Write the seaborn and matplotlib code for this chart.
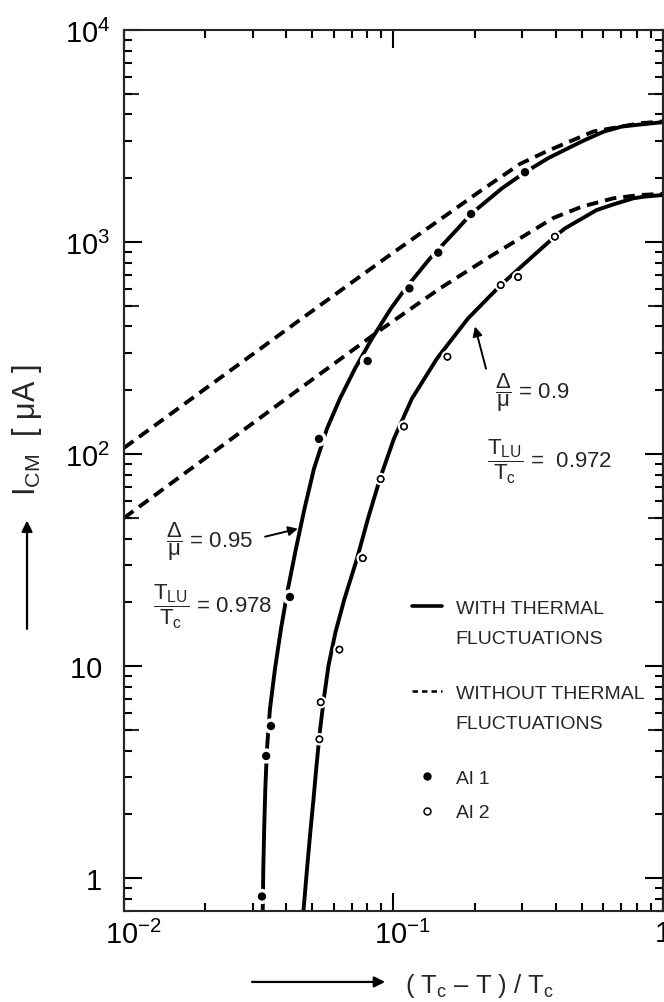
import numpy as np
import pandas as pd
import matplotlib
matplotlib.use("Agg")
import matplotlib.pyplot as plt
import matplotlib.patheffects as pe
import matplotlib.transforms as mtransforms
from matplotlib.lines import Line2D
from matplotlib.ticker import LogLocator, NullFormatter, FixedLocator, FixedFormatter
import seaborn as sns

# --- data ---
# measured points
al1_x = [0.0325, 0.0337, 0.0351, 0.0413, 0.0529, 0.0802, 0.1146, 0.1466, 0.194, 0.3076]
al1_y = [0.82, 3.77, 5.22, 21.2, 118, 275, 605, 892, 1357, 2136]
al2_x = [0.0531, 0.0537, 0.0630, 0.0769, 0.0896, 0.1094, 0.1585, 0.25, 0.290, 0.397]
al2_y = [4.52, 6.76, 11.97, 32.3, 76.3, 135, 288, 627, 684, 1061]

# theory, with thermal fluctuations (solid)
with1_x = [0.03272, 0.03288, 0.03313, 0.03345, 0.03393, 0.03481, 0.03633, 0.03824, 0.04059,
           0.04346, 0.04675, 0.0507, 0.05665, 0.0633, 0.07197, 0.08323, 0.09788, 0.1108,
           0.1366, 0.1735, 0.1939, 0.2527, 0.3075, 0.3744, 0.4441, 0.5135, 0.604, 0.7045,
           0.8429, 1.0]
with1_y = [0.701, 1.103, 1.704, 2.633, 4.067, 6.283, 9.705, 14.99, 23.16,
           35.78, 55.27, 85.4, 131.9, 182.9, 253.3, 351.2, 486.6, 604.7,
           838.1, 1161, 1357, 1794, 2135, 2486, 2771, 3033, 3323, 3510,
           3598, 3680]
with2_x = [0.04634, 0.04788, 0.04913, 0.05049, 0.0518, 0.05328, 0.05513, 0.05739, 0.06092,
           0.06579, 0.0732, 0.0804, 0.0891, 0.1004, 0.1171, 0.145, 0.189, 0.2499, 0.328,
           0.3975, 0.4329, 0.5675, 0.6636, 0.7759, 0.857, 1.0]
with2_y = [0.701, 1.143, 1.644, 2.361, 3.391, 4.875, 7.004, 10.06, 14.46,
           20.78, 32.1, 49.6, 76.6, 118.4, 182.9, 282.5, 436.4, 627, 856,
           1065, 1161, 1417, 1515, 1609, 1640, 1668]

# theory, without thermal fluctuations (dashed)
without1_x = [0.01, 0.045, 0.0903, 0.2095, 0.2946, 0.370, 0.551, 0.822, 1.0]
without1_y = [107, 430, 815, 1738, 2336, 2680, 3323, 3638, 3706]
without2_x = [0.01, 0.045, 0.0891, 0.1488, 0.228, 0.392, 0.50, 0.655, 0.822, 1.0]
without2_y = [50, 204, 384, 605, 854, 1300, 1470, 1610, 1668, 1690]

x_ticks = [0.01, 0.1, 1]
x_ticklabels = [r"$10^{-2}$", r"$10^{-1}$", "1"]
y_ticks = [1, 10, 100, 1000, 10000]
y_ticklabels = ["1 ", "10 ", r"$10^2$", r"$10^3$", r"$10^4$"]
y_mid_ticks = [5, 50, 500, 5000]

# --- style ---
sns.set_style("ticks")
FONT = ["Liberation Sans", "DejaVu Sans"]
plt.rcParams["font.family"] = FONT
plt.rcParams.update({
    "mathtext.fontset": "custom",
    "mathtext.rm": "Liberation Sans",
    "mathtext.it": "Liberation Sans:italic",
    "mathtext.bf": "Liberation Sans:bold",
    "mathtext.default": "regular",
    "axes.linewidth": 1.5,
})

fig = plt.figure(figsize=(6.64, 10.03), dpi=100)
ax = fig.add_axes([0.1867, 0.0907, 0.8118, 0.8783])
ax.set_xscale("log")
ax.set_yscale("log")

curves = [
    (with1_x, with1_y, "-"),
    (with2_x, with2_y, "-"),
    (without1_x, without1_y, "--"),
    (without2_x, without2_y, "--"),
]
for xs, ys, ls in curves:
    df = pd.DataFrame({"x": xs, "y": ys})
    sns.lineplot(data=df, x="x", y="y", ax=ax, color="black", lw=2.8,
                 sort=False, estimator=None, legend=False)
    line = ax.lines[-1]
    if ls == "--":
        line.set_dashes((3.0, 1.8))
    line.set_solid_capstyle("butt")
    line.set_solid_joinstyle("round")

# measured points, with white halo so the curve is broken round them
df1 = pd.DataFrame({"x": al1_x, "y": al1_y})
sns.scatterplot(data=df1, x="x", y="y", ax=ax, color="black", s=36,
                linewidth=0, zorder=5, legend=False)
ax.collections[-1].set_path_effects([pe.withStroke(linewidth=5, foreground="white")])
df2 = pd.DataFrame({"x": al2_x, "y": al2_y})
sns.scatterplot(data=df2, x="x", y="y", ax=ax, facecolor="white", edgecolor="black",
                s=20, linewidth=1.1, zorder=5, legend=False)
ax.collections[-1].set_path_effects([pe.withStroke(linewidth=4.5, foreground="white"), pe.Normal()])

ax.set_xlim(0.01, 1.0)
ax.set_ylim(0.7, 10000)

ax.xaxis.set_major_locator(FixedLocator(x_ticks))
ax.xaxis.set_major_formatter(FixedFormatter(x_ticklabels))
ax.yaxis.set_major_locator(FixedLocator(y_ticks))
ax.yaxis.set_major_formatter(FixedFormatter(y_ticklabels))
ax.xaxis.set_minor_locator(LogLocator(base=10, subs=np.arange(2, 10)))
ax.yaxis.set_minor_locator(LogLocator(base=10, subs=np.arange(2, 10)))
ax.xaxis.set_minor_formatter(NullFormatter())
ax.yaxis.set_minor_formatter(NullFormatter())
ax.tick_params(which="both", direction="in", top=True, right=True, width=1.5, colors="black")
ax.tick_params(which="major", length=13, labelsize=21)
ax.tick_params(which="minor", length=6)
ax.tick_params(axis="y", which="major", pad=10)
ax.tick_params(axis="x", which="major", pad=6)
ax.set_xlabel("")
ax.set_ylabel("")
# the 10^n labels sit a little right of their ticks in the original
shift = mtransforms.ScaledTranslation(0.09, 0, fig.dpi_scale_trans)
for lab in ax.get_xticklabels()[:2]:
    lab.set_transform(lab.get_transform() + shift)

# longer ticks at the 5s on both y axes
for side in ("left", "right"):
    sec = ax.secondary_yaxis(side)
    sec.set_yticks(y_mid_ticks)
    sec.yaxis.set_minor_locator(FixedLocator([]))
    sec.tick_params(which="major", direction="in", length=11, width=1.5, labelleft=False,
                    labelright=False)
    sec.spines[side].set_linewidth(1.5)

# --- annotations ---
arrow = dict(arrowstyle="-|>", lw=1.4, color="black", mutation_scale=14, shrinkA=0, shrinkB=0)
ax.text(0.01432, 39.0, r"$\dfrac{\Delta}{\mu}$ = 0.95", fontsize=16, ha="left", va="center")
ax.annotate("", xy=(0.0442, 44.5), xytext=(0.0334, 40.8), arrowprops=arrow)
ax.text(0.0128, 19.3, r"$\dfrac{\mathrm{T}_{\mathrm{LU}}}{\mathrm{T}_{\mathrm{c}}}$ = 0.978",
        fontsize=16, ha="left", va="center")
ax.text(0.238, 197, r"$\dfrac{\Delta}{\mu}$ = 0.9", fontsize=16, ha="left", va="center")
ax.annotate("", xy=(0.2006, 400), xytext=(0.2204, 253), arrowprops=arrow)
ax.text(0.2223, 93.2, r"$\dfrac{\mathrm{T}_{\mathrm{LU}}}{\mathrm{T}_{\mathrm{c}}}$ =  0.972",
        fontsize=16, ha="left", va="center")

# --- legends ---
blank = Line2D([], [], color="none", lw=0)
leg_kw = dict(loc="upper left", frameon=False, fontsize=14, handlelength=1.55,
              handletextpad=0.7, labelspacing=0.65, borderaxespad=0, borderpad=0)
leg1 = ax.legend([Line2D([], [], color="black", lw=2.6), blank],
                 ["WITH THERMAL", "FLUCTUATIONS"], bbox_to_anchor=(0.534, 0.3535), **leg_kw)
ax.add_artist(leg1)
leg2 = ax.legend([Line2D([], [], color="black", lw=1.8, dashes=(2.2, 1.6)), blank],
                 ["WITHOUT THERMAL", "FLUCTUATIONS"], bbox_to_anchor=(0.534, 0.257), **leg_kw)
ax.add_artist(leg2)
h_pts = [Line2D([], [], ls="none", marker="o", ms=5, color="black"),
         Line2D([], [], ls="none", marker="o", ms=5, mfc="white", mec="black", mew=1.1)]
leg_kw["labelspacing"] = 0.85
ax.legend(h_pts, ["Al 1", "Al 2"], bbox_to_anchor=(0.534, 0.1605), **leg_kw)

# axis titles with arrows
fig.text(0.0407, 0.571, r"I$_{\mathrm{CM}}$  [ $\mu$A ]", rotation=90, fontsize=22,
         ha="center", va="center")
fig.text(0.723, 0.017, r"( T$_{\mathrm{c}}$ – T ) / T$_{\mathrm{c}}$", fontsize=18.5,
         ha="center", va="center")
fig_arrow = dict(arrowstyle="-|>", lw=1.6, color="black", mutation_scale=16, shrinkA=0, shrinkB=0)
ax.annotate("", xy=(0.0407, 0.480), xytext=(0.0407, 0.372), xycoords="figure fraction",
            textcoords="figure fraction", arrowprops=fig_arrow)
ax.annotate("", xy=(0.580, 0.020), xytext=(0.3795, 0.020), xycoords="figure fraction",
            textcoords="figure fraction", arrowprops=fig_arrow)

fig.savefig("out.png", dpi=100)
